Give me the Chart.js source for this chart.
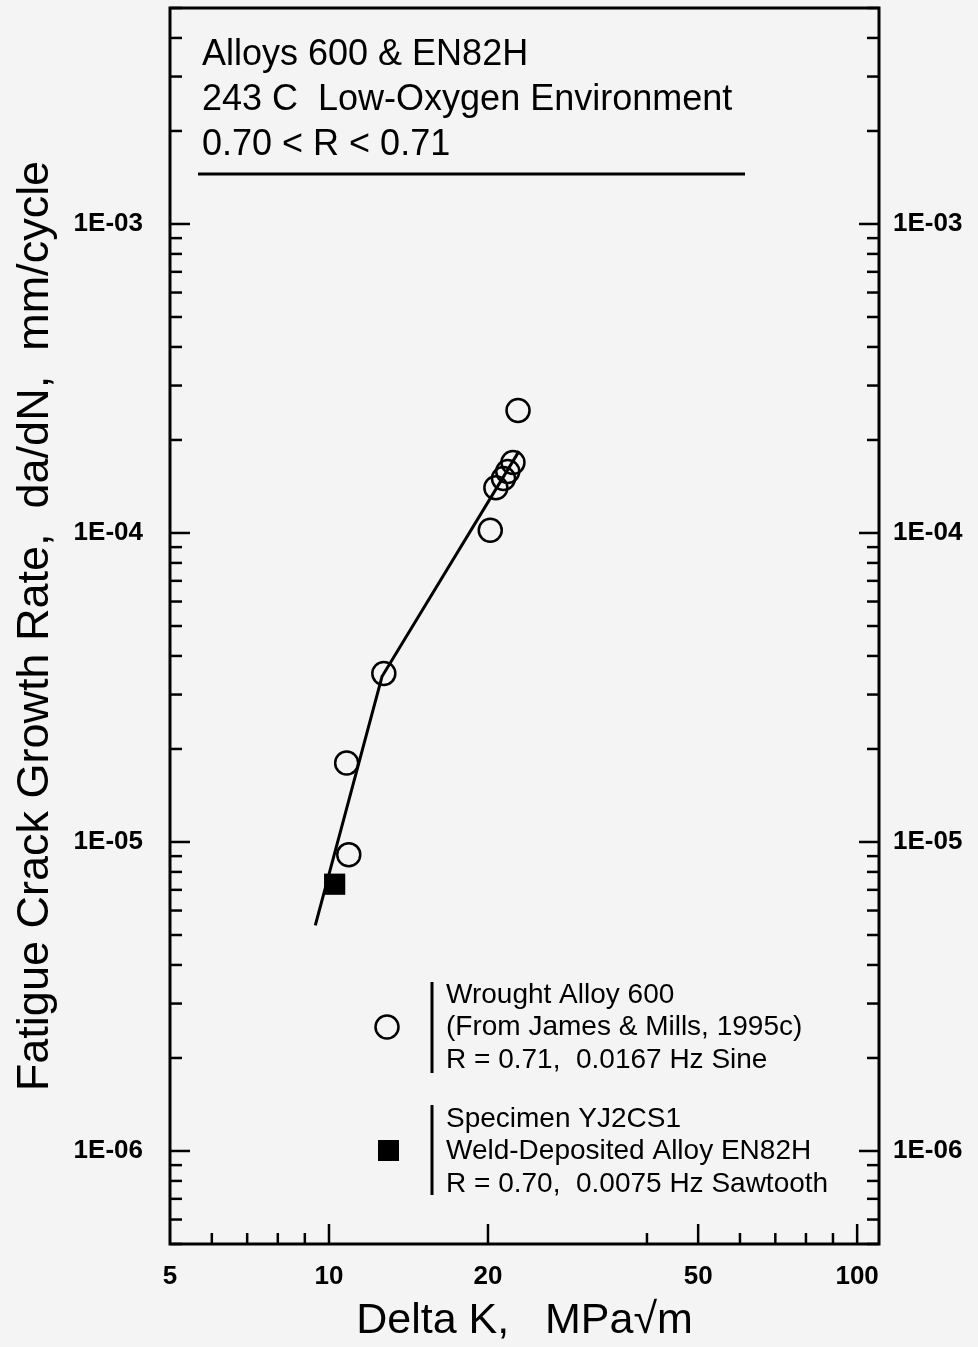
<!DOCTYPE html>
<html lang="en">
<head>
  <meta charset="UTF-8">
  <title>Fatigue Crack Growth Rate</title>
  <style>
    body {
      margin: 0;
      background: #f4f4f4;
    }
    #chart {
      display: block;
    }
  </style>
</head>
<body>
  <canvas id="chart" width="978" height="1347"></canvas>

  <script src="https://cdn.jsdelivr.net/npm/chart.js"></script>
  <script>
    // Wrought Alloy 600 (open circles)
    const alloyDK = [22.8, 22.3, 21.8, 21.4, 20.7, 20.2, 12.7, 10.8, 10.9];
    const alloyRate = [2.49e-4, 1.69e-4, 1.58e-4, 1.50e-4, 1.40e-4, 1.02e-4, 3.51e-5, 1.80e-5, 9.1e-6];

    // Specimen YJ2CS1, EN82H (filled square)
    const weldDK = [10.25];
    const weldRate = [7.3e-6];

    // fitted trend line
    const fitDK = [9.42, 12.6, 22.9];
    const fitRate = [5.37e-6, 3.43e-5, 1.84e-4];

    const xTickValues = [5, 10, 20, 50, 100];
    const xTickLabels = ['5', '10', '20', '50', '100'];
    const xMinorTicks = [6, 7, 8, 9, 40, 60, 70, 80, 90];

    const yTickValues = [1e-6, 1e-5, 1e-4, 1e-3];
    const yTickLabels = ['1E-06', '1E-05', '1E-04', '1E-03'];

    const titleLines = ['Alloys 600 & EN82H', '243 C  Low-Oxygen Environment', '0.70 < R < 0.71'];
    const legendCircleLines = ['Wrought Alloy 600', '(From James & Mills, 1995c)', 'R = 0.71,  0.0167 Hz Sine'];
    const legendSquareLines = ['Specimen YJ2CS1', 'Weld-Deposited Alloy EN82H', 'R = 0.70,  0.0075 Hz Sawtooth'];

    const X_MIN = 5, X_MAX = 110, Y_MIN = 5e-7, Y_MAX = 5e-3;

    // minor ticks for the log y axis (2..9 in every decade)
    const yMinorTicks = [];
    for (let d = -7; d <= -3; d++) {
      for (let k = 2; k <= 9; k++) {
        const v = k * Math.pow(10, d);
        if (v > Y_MIN * 0.999 && v < Y_MAX * 1.001) yMinorTicks.push(v);
      }
    }

    const zip = (xs, ys) => xs.map((x, i) => ({ x: x, y: ys[i] }));

    Chart.defaults.font.family = 'Arial, "Liberation Sans", sans-serif';
    Chart.defaults.color = '#000';

    const tickFont = { size: 26, weight: 'bold' };

    // fixed box sizes, no extra label padding around the plot area
    const fixBox = (w, h) => s => {
      if (w) s.width = w;
      if (h) s.height = h;
      s.paddingTop = 0; s.paddingBottom = 0;
      s.paddingLeft = 0; s.paddingRight = 0;
    };

    // frame, inward tick marks, header text and legend
    const decorations = {
      id: 'decorations',
      afterDraw(chart) {
        const ctx = chart.ctx;
        const a = chart.chartArea;
        const xs = chart.scales.x, ys = chart.scales.y;
        ctx.save();
        ctx.strokeStyle = '#000';
        ctx.fillStyle = '#000';

        // ticks
        ctx.lineWidth = 2.5;
        const tick = (x1, y1, x2, y2) => {
          ctx.beginPath(); ctx.moveTo(x1, y1); ctx.lineTo(x2, y2); ctx.stroke();
        };
        xTickValues.forEach(v => {
          const px = xs.getPixelForValue(v);
          if (px > a.left + 2) tick(px, a.bottom, px, a.bottom - 20);
        });
        xMinorTicks.forEach(v => {
          const px = xs.getPixelForValue(v);
          tick(px, a.bottom, px, a.bottom - 11);
        });
        yTickValues.forEach(v => {
          const py = ys.getPixelForValue(v);
          tick(a.left, py, a.left + 20, py);
          tick(a.right, py, a.right - 20, py);
        });
        yMinorTicks.forEach(v => {
          const py = ys.getPixelForValue(v);
          tick(a.left, py, a.left + 12, py);
          tick(a.right, py, a.right - 12, py);
        });

        // frame
        ctx.lineWidth = 3;
        ctx.strokeRect(a.left, a.top, a.right - a.left, a.bottom - a.top);

        // header
        ctx.font = '36px Arial, "Liberation Sans", sans-serif';
        ctx.textBaseline = 'alphabetic';
        ctx.textAlign = 'left';
        [65, 110, 155].forEach((y, i) => ctx.fillText(titleLines[i], 202, y));
        ctx.beginPath();
        ctx.moveTo(198, 174);
        ctx.lineTo(745, 174);
        ctx.stroke();

        // legend
        ctx.font = '28px Arial, "Liberation Sans", sans-serif';
        [1003, 1035, 1068].forEach((y, i) => ctx.fillText(legendCircleLines[i], 446, y));
        [1127, 1159, 1192].forEach((y, i) => ctx.fillText(legendSquareLines[i], 446, y));
        ctx.lineWidth = 3;
        tick(432, 982, 432, 1073);
        tick(432, 1105, 432, 1195);
        ctx.lineWidth = 2.5;
        ctx.beginPath();
        ctx.arc(387, 1027, 11.5, 0, Math.PI * 2);
        ctx.stroke();
        ctx.fillRect(378, 1140, 21, 21);

        ctx.restore();
      }
    };

    new Chart(document.getElementById('chart'), {
      type: 'scatter',
      data: {
        datasets: [
          {
            type: 'line',
            label: 'Fit',
            data: zip(fitDK, fitRate),
            borderColor: '#000',
            borderWidth: 3,
            pointRadius: 0,
            fill: false,
            tension: 0
          },
          {
            label: 'Wrought Alloy 600',
            data: zip(alloyDK, alloyRate),
            pointStyle: 'circle',
            pointRadius: 11.5,
            borderWidth: 2.5,
            borderColor: '#000',
            backgroundColor: 'rgba(0,0,0,0)'
          },
          {
            label: 'Specimen YJ2CS1',
            data: zip(weldDK, weldRate),
            pointStyle: 'rect',
            pointRadius: 15,
            borderWidth: 0,
            borderColor: '#000',
            backgroundColor: '#000'
          }
        ]
      },
      options: {
        responsive: false,
        animation: false,
        layout: { autoPadding: false, padding: { top: 8, right: 0, bottom: 0, left: 0 } },
        plugins: {
          legend: { display: false },
          tooltip: { enabled: false }
        },
        scales: {
          x: {
            type: 'logarithmic',
            position: 'bottom',
            min: X_MIN,
            max: X_MAX,
            bounds: 'data',
            grid: { display: false, drawTicks: false },
            border: { display: false },
            ticks: {
              autoSkip: false,
              maxRotation: 0,
              padding: 17,
              font: tickFont,
              callback: v => {
                const i = xTickValues.indexOf(v);
                return i >= 0 ? xTickLabels[i] : '';
              }
            },
            afterBuildTicks: s => { s.ticks = xTickValues.map(v => ({ value: v })); },
            afterFit: fixBox(0, 103),
            title: {
              display: true,
              text: 'Delta K,   MPa\u221Am',
              font: { size: 43 },
              padding: { top: 0, bottom: 0 }
            }
          },
          y: {
            type: 'logarithmic',
            position: 'left',
            min: Y_MIN,
            max: Y_MAX,
            bounds: 'data',
            grid: { display: false, drawTicks: false },
            border: { display: false },
            ticks: {
              autoSkip: false,
              padding: 27,
              font: tickFont,
              callback: v => {
                const i = yTickValues.indexOf(v);
                return i >= 0 ? yTickLabels[i] : '';
              }
            },
            afterBuildTicks: s => { s.ticks = yTickValues.map(v => ({ value: v })); },
            afterFit: fixBox(170, 0),
            title: {
              display: true,
              text: 'Fatigue Crack Growth Rate,  da/dN,  mm/cycle',
              font: { size: 45 },
              padding: { top: 9, bottom: 0 }
            }
          },
          y2: {
            type: 'logarithmic',
            position: 'right',
            min: Y_MIN,
            max: Y_MAX,
            bounds: 'data',
            grid: { display: false, drawTicks: false },
            border: { display: false },
            ticks: {
              autoSkip: false,
              padding: 14,
              font: tickFont,
              callback: v => {
                const i = yTickValues.indexOf(v);
                return i >= 0 ? yTickLabels[i] : '';
              }
            },
            afterBuildTicks: s => { s.ticks = yTickValues.map(v => ({ value: v })); },
            afterFit: fixBox(99, 0)
          }
        }
      },
      plugins: [decorations]
    });
  </script>
</body>
</html>
